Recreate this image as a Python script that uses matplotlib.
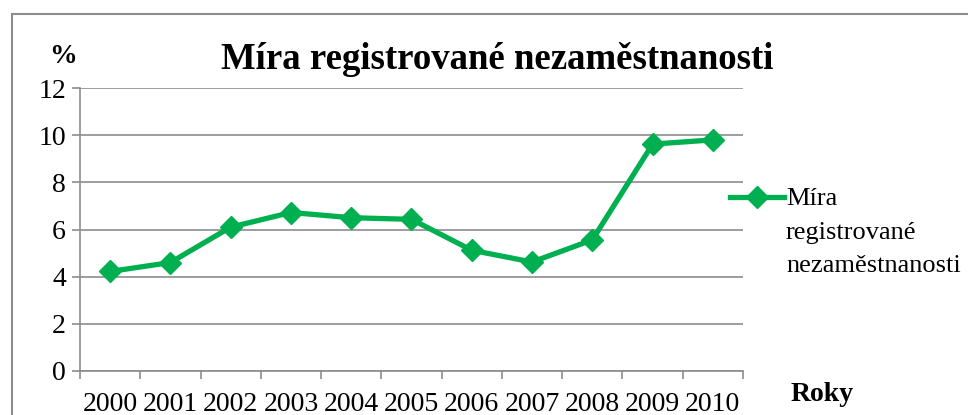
import matplotlib.pyplot as plt
from matplotlib.lines import Line2D
from matplotlib.patches import Rectangle

years = ["2000", "2001", "2002", "2003", "2004", "2005",
         "2006", "2007", "2008", "2009", "2010"]
rate = [4.22, 4.6, 6.1, 6.72, 6.5, 6.43, 5.12, 4.62, 5.56, 9.62, 9.8]
y_ticks = [0, 2, 4, 6, 8, 10, 12]

GREEN = "#00B050"
GRAY = "#8C8C8C"

plt.rcParams["font.family"] = ["Liberation Serif", "DejaVu Serif"]

fig = plt.figure(figsize=(9.68, 4.15), dpi=100)
ax = fig.add_axes([80 / 968, 1 - 371 / 415, (743 - 80) / 968, (371 - 88) / 415])

x = list(range(len(years)))
ax.plot(x, rate, color=GREEN, lw=3.8, marker="D", markersize=11,
        solid_joinstyle="round")

ax.set_xlim(-0.5, len(years) - 0.5)
ax.set_ylim(0, 12)
ax.set_yticks(y_ticks)
ax.set_xticks([i - 0.5 for i in range(len(years) + 1)])
ax.set_xticklabels([])
ax.set_xticks(x, minor=True)
ax.set_xticklabels(years, minor=True)

ax.grid(axis="y", color=GRAY, lw=1.2)
ax.set_axisbelow(True)
for side in ["top", "right"]:
    ax.spines[side].set_visible(False)
for side in ["left", "bottom"]:
    ax.spines[side].set_color(GRAY)
    ax.spines[side].set_linewidth(1.2)

ax.tick_params(axis="both", which="major", color=GRAY, width=1.2, length=6,
               labelsize=20, pad=4)
ax.tick_params(axis="x", which="minor", length=0, labelsize=20, pad=15)

# titles and axis captions
fig.text(497 / 968, 1 - 69 / 415, "Míra registrované nezaměstnanosti",
         ha="center", va="baseline", fontsize=26.5, fontweight="bold")
fig.text(63 / 968, 1 - 63 / 415, "%", ha="center", va="baseline",
         fontsize=20, fontweight="bold")
fig.text(791 / 968, 1 - 401 / 415, "Roky", ha="left", va="baseline",
         fontsize=20, fontweight="bold")

# legend drawn by hand so the key sits on the first line
key_y = 1 - 197 / 415
fig.add_artist(Line2D([730 / 968, 784 / 968], [key_y, key_y], color=GREEN,
                      lw=3.8, transform=fig.transFigure))
fig.add_artist(Line2D([757 / 968], [key_y], color=GREEN, marker="D",
                      markersize=11, transform=fig.transFigure))
for line, base in zip(["Míra", "registrované", "nezaměstnanosti"], [205, 239, 272]):
    fig.text(786 / 968, 1 - base / 415, line, ha="left", va="baseline",
             fontsize=19)

# chart frame (cropped on the right and bottom)
fig.add_artist(Rectangle((12 / 968, -0.2), 1.2, 1.2 - 14 / 415, fill=False,
                         edgecolor=GRAY, lw=1.5, transform=fig.transFigure,
                         clip_on=False))

fig.savefig("out.png", dpi=100)
